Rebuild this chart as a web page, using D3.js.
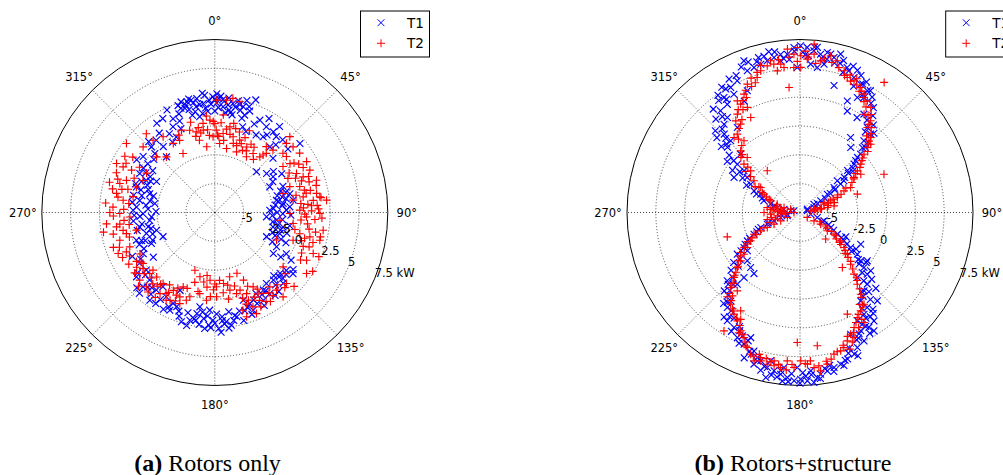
<!DOCTYPE html>
<html>
<head>
<meta charset="utf-8">
<script src="https://cdn.jsdelivr.net/npm/d3@7"></script>
<style>
  body { margin: 0; background: #fff; }
  svg { display: block; }
  .tick { font-family: "DejaVu Sans", sans-serif; font-size: 11.5px; fill: #000; }
  .legend text { font-family: "DejaVu Sans", sans-serif; font-size: 13.5px; fill: #000; }
  .caption { font-family: "Liberation Serif", serif; font-size: 24px; fill: #000; }
</style>
</head>
<body>
<svg id="chart" width="1003" height="475"></svg>
<script>
// angular ticks (deg, clockwise from north) and radial ticks (kW)
const angleTicks = [0, 45, 90, 135, 180, 225, 270, 315];
const angleLabels = ["0°", "45°", "90°", "135°", "180°", "225°", "270°", "315°"];
const radialTicks = [-5, -2.5, 0, 2.5, 5, 7.5];
const radialLabels = ["-5", "-2.5", "0", "2.5", "5", "7.5 kW"];
const seriesNames = ["T1", "T2"];
const captions = [["(a)", " Rotors only"], ["(b)", " Rotors+structure"]];

// (a) rotors only : [angle deg, power kW]
const rotorsT1 = [
  [343,2.53],[345,2.13],[348,2.45],[350,1.81],[353,1.15],[357,2.26],[359,2.53],[2,2.39],[4.5,1.69],[8,1.47],[9.5,2.08],[14,1.63],[17,1.33],[18,2.15],[20,2.89],[351,0.9],[347,1.15],[18,0.32],[21,0.02],
  [340,1.6],[342,2.0],[346,1.7],[349,2.2],[352,1.95],[355,1.6],[358,1.9],[0,1.3],[1,2.0],[3,2.6],[5,2.2],[6,1.2],[7,2.5],[10,1.1],[11,1.8],[12,2.4],[15,2.0],[16,1.0],[355,2.7],[347,2.6],
  [344,1.9],[346,2.4],[349,1.4],[351,2.5],[354,2.0],[356,1.3],[0,2.3],[2,1.6],[4,2.3],[7,1.9],[9,1.3],[13,2.1],[16,2.6],[19,1.8],[354,2.9],[1,2.8],
  [335,2.31],[331,1.81],[327,1.73],[334,0.77],[338,0.34],[333,-0.15],[330,0.38],[321,0.56],[316,0.41],[314.5,-0.21],[322,-0.25],[319,-1.11],
  [311,-0.5],[317,0.9],[325,0.9],[329,-0.4],[336,1.4],[339,1.0],[341,2.3],
  [304,0.67],[308,0.38],[306,-0.32],[304,-1.01],[297.5,-0.17],[295,-0.94],[298,-1.78],[288,-0.35],[286,-1.63],[279,-0.91],[278.5,-2.24],[271.6,-0.41],[269,-1.28],[263,-1.82],[259,-0.87],[253,-2.22],[253,-1.3],[250.5,-0.29],[244,-1.39],[245,-2.55],[240,-0.34],[234,-0.91],
  [300,-0.6],[292,-1.2],[290,-0.2],[283,-1.0],[282,-0.3],[276,-1.5],[274,-0.7],[268,-0.5],[266,-2.0],[261,-1.1],[257,-0.6],[256,-1.8],[248,-1.0],[247,-0.4],[285,-2.0],[271,-2.4],
  [296,-1.3],[293,-0.6],[289,-1.4],[287,-0.8],[280,-1.8],[277,-0.3],[273,-1.7],[267,-1.0],[264,-0.4],[258,-1.6],[251,-1.8],[249,-0.7],[246,-1.6],[243,-0.6],[302,-0.2],[299,-1.1],
  [236,0.37],[230,0.25],[230.6,1.29],[224,0.64],[224,1.46],[217,0.92],[223,2.07],[215,0.35],[216.5,1.97],[210,0.93],[204.6,1.18],[204,-0.11],[204.7,1.83],
  [220,1.0],[226,1.9],[228,0.6],[232,1.0],[238,0.1],[242,0.6],
  [193,2.09],[190,1.4],[186,1.75],[183,2.29],[181,1.84],[178,2.56],[176,1.56],[174,2.03],[171.6,2.38],[168,1.74],[189,0.78],[183,0.98],
  [185,2.6],[187,1.2],[180,2.1],[179,1.3],[177,2.9],[175,2.2],[172,1.2],[170,2.0],[166,1.3],[165,2.2],[191,1.9],[195,1.5],[197,2.4],[200,1.6],[208,2.0],[212,1.4],
  [169,1.6],[173,2.6],[176,1.9],[182,2.5],[184,1.5],[188,2.3],[190,2.0],[194,2.6],[199,2.0],[202,1.3],[206,1.6],[213,1.9],[218,1.5],[222,1.2],
  [162,0.5],[159,0.96],[153,0.4],[148,0.44],[144,0.11],[139,0.25],[133,0.23],[129,0.48],[128,1.11],[152,1.63],[158.6,1.6],[136,1.04],
  [131,0.7],[135,0.4],[141,1.3],[146,1.0],[150,0.7],[155,1.2],[160,1.9],[163,1.4],
  [134,0.7],[137,0.0],[140,0.7],[144,1.4],[147,0.6],[151,1.2],[156,0.8],[161,1.2],
  [53,-1.88],[58.5,-1.57],[65,-2.24],[78.7,-2.05],[82.5,-1.52],[85.7,-0.98],[94.8,-3.0],[104,-2.3],[108,-1.58],[115,-2.55],[119,-1.38],[120,-0.34],[69,-1.17],[76,-0.79],[81,-0.62],[87.6,-2.73],[102,-1.45],
  [72,-1.5],[75,-1.9],[79,-1.2],[83,-2.2],[88,-1.3],[90,-2.1],[92,-0.9],[96,-1.6],[99,-2.4],[100,-0.9],[106,-1.0],[111,-1.9],[113,-0.8],[117,-1.9],[124,-0.6],[125,-1.3],[122,0.3],[126,0.9],
  [74,-1.1],[77,-1.5],[80,-1.9],[84,-1.6],[86,-2.4],[91,-1.6],[93,-2.5],[97,-2.1],[101,-1.9],[105,-1.6],[109,-2.2],[112,-1.3],
  [26,1.41],[31,1.18],[36,1.14],[37,1.83],[39,0.97],[43,1.13],[32.5,0.29],[28,0.12],[51,2.0],[40,-0.07],[45.7,-2.44],
  [24,0.9],[30,1.9],[34,0.6],[42,0.4],[47,-0.6],[49,0.9],[55,-1.3],[60,-0.8],[62,-1.8]
];
const rotorsT2 = [
  [343,-0.04],[347,-0.33],[352.5,0.29],[357,0.52],[1,-0.36],[6,-0.61],[10,0.05],[13.6,-0.74],[19,-0.87],[26,-1.18],[6,2.29],[9,2.52],[12.7,2.34],[348,-1.1],[358.7,-0.93],[4,-1.5],[10.4,-1.86],[19.7,-1.91],[29.6,-1.94],[33,-1.4],[39,-1.29],[41,-0.7],[353,-1.76],[1,2.24],
  [345,0.6],[350,-0.5],[355,-0.3],[0,0.2],[3,-0.9],[8,-0.2],[12,0.4],[15,-1.3],[17,-0.2],[22,-0.5],[24,-1.6],[28,-0.8],[5,1.0],[355,0.9],[338,0.2],[335,-0.1],
  [346,-0.7],[349,0.0],[352,-0.3],[356,-0.8],[359,0.4],[2,-0.8],[4,0.3],[7,-1.2],[11,-0.6],[14,0.0],[18,-1.4],[21,-1.1],[23,0.2],[27,-1.5],[31,-0.9],[36,-1.8],
  [319,1.55],[319.5,0.74],[325.7,0.45],[329,-0.51],[334,-0.54],[308,2.22],[312.5,0.93],[313.7,-0.51],[319,-1.11],[331.7,-1.69],
  [296.5,2.02],[296.5,1.38],[304,1.08],[301,0.12],[300,-0.67],[287,1.11],[290,0.65],[288,-0.35],[281,1.18],[277.6,0.52],[281,-0.28],[273,1.34],[269.4,0.74],[267,-0.12],[264,1.94],[261.7,1.11],[256.6,0.38],[257.3,-0.54],[253.7,1.08],[248,0.45],[241,-0.08],[258,1.5],[294,-0.68],
  [299,1.3],[292,1.7],[285,0.3],[283,1.6],[276,0.0],[270,1.6],[265,0.4],[262,0.0],[250,1.3],[246,0.9],[244,1.4],[238,0.5],[231,0.9],[232,0.4],[260,2.3],[275,2.0],
  [302,1.7],[297,0.6],[293,0.1],[289,1.4],[286,2.0],[284,0.8],[279,1.0],[272,0.4],[268,1.3],[263,0.8],[259,0.6],[254,0.2],[251,1.8],[247,1.6],[243,0.8],[239,1.2],[236,0.2],
  [235,0.77],[234.6,0.13],[226.8,0.23],[228,1.26],[222,0.03],[222.6,1.25],[216,0.12],[214,0.99],[208,0.15],[203,-0.49],[207,1.05],[202.5,0.42],[227,-0.17],
  [200,-0.5],[204,0.9],[206,-0.2],[209,1.2],[211,0.7],[215,1.5],[217,0.3],[221,0.7],[224,0.4],[229,0.6],[233,1.2],[226,1.7],
  [199,-2.2],[193,-1.78],[184,-1.61],[178.7,-1.06],[173,-1.3],[169,-0.64],[190.5,-0.35],[185.4,0.14],[178.8,-0.19],[165,-0.22],[196.5,0.12],[201,0.96],[167,-1.78],
  [176,-1.6],[181,-0.8],[186,-1.0],[189,-1.4],[192,-0.5],[170,-1.1],[196,-1.2],[198,0.5],[205,0.4],[210,0.5],[212,-0.1],[218,0.6],[220,1.5],
  [183,-0.2],[174,-0.5],[171,0.1],[187,-2.0],[180,-1.3],
  [160,-1.89],[157,-1.13],[162,-0.42],[158.6,0.05],[152.7,-0.25],[159,0.64],[164,1.32],[158,1.33],[153,1.05],[149,0.68],[143.5,0.52],[141.5,1.1],[141,1.91],[157.6,1.98],[163,1.95],
  [146,0.9],[148,1.6],[151,0.1],[155,0.6],[161,0.9],[165,-0.9],[137,1.4],[131,0.6],
  [150,1.4],[152,0.5],[154,1.6],[156,-0.5],[162,0.3],[145,1.3],[139,0.8],[133,1.9],
  [56,-0.37],[57,0.27],[64.5,0.35],[68,0.76],[66,1.52],[72.4,1.75],[73,0.2],[71,-0.62],[74.5,-1.35],[81,-0.62],[80,0.28],[83,1.1],[81.5,1.71],[83.7,2.25],[88.4,-0.13],[90.8,-0.99],[92.7,0.46],[90.5,1.61],[96.8,-1.82],[98,-0.64],[104,0.1],[104.4,1.01],[104.8,1.92],[111,0.71],[112.6,1.74],[117.5,1.47],[109.5,-0.3],[99.3,2.02],[55,1.48],[50,1.36],[52,0.38],[79.4,1.48],[123.6,2.05],[128.5,0.07],[134.7,1.25],[114,-1.64],
  [60,0.9],[62,-0.2],[67,0.1],[69,1.2],[76,0.5],[77,1.0],[78,-0.3],[85,0.6],[86,1.4],[87,0.2],[89,0.9],[94,1.2],[95,0.0],[100,0.8],[102,-0.4],[107,1.4],[108,0.4],[115,0.8],[119,1.0],[121,2.4],
  [58,0.6],[61,1.6],[63,1.1],[65,-0.5],[70,0.5],[72,1.1],[75,1.6],[78,0.6],[82,1.8],[84,0.0],[86,0.9],[88,1.5],[91,0.3],[93,1.8],[97,0.6],[101,1.4],[103,1.9],[106,0.6],[110,1.2],[113,2.3],
  [40,-0.99],[38,-0.25],[43,-0.1],[46,1.13],[49,0.33],[44.7,1.75]
];

// (b) rotors + structure : [angle deg, power kW]
const structT1 = [
  [18,5.72],[21.8,5.1],[25.3,4.8],[29,4.56],[29.1,3.9],[23,3.0],[25,2.2],[31,2.1],[38.4,1.9],[42,1.65],[41.7,0.83],[38,-0.35],[46.2,-0.6],[48.2,-1.2],[48.6,-2.0],[51.5,-2.6],[49.6,-3.25],[53.7,-3.84],[56.2,-4.65],[60.5,-5.44],[59.3,-6.09],[65.7,-6.8],[34,0.35],[15,3.9],[26.5,3.64],[33,2.67],
  [20,6.0],[24,5.5],[27,5.2],[32,4.3],[35,3.6],[37,3.0],[40,2.4],[44,1.0],[44,0.3],[46,-0.2],[50,-1.5],[52,-1.7],[55,-3.2],[57,-3.9],[63,-5.8],
  [22,5.8],[23,4.4],[26,4.9],[28,4.1],[30,4.7],[33,3.8],[36,2.4],[39,1.5],[43,1.9],[45,0.5],[47,-0.9],[51,-2.1],[54,-2.8],[58,-4.4],[61,-5.0],
  [334.5,5.15],[331,4.9],[326.5,4.45],[326.1,3.8],[330.8,4.25],[322,3.7],[322.6,2.87],[316,1.95],[316,1.15],[323.6,1.66],[312,0.96],[314.5,-0.28],[307.6,-0.65],[306.7,-1.45],[298,-1.02],[303.6,-2.0],[299.8,-2.57],[295.2,-3.1],[295,-3.74],[288,-4.2],[286,-4.85],[282.4,-5.49],[281.7,-6.09],[280.4,-6.68],[319.3,2.6],[333.4,3.3],[336.6,4.0],
  [328,5.3],[325,4.9],[320,4.2],[318,3.4],[314,2.7],[312,2.2],[310,1.4],[305,0.2],[302,-0.6],[335,5.6],[338,6.1],[341,6.3],
  [332,5.6],[329,5.0],[327,4.2],[324,4.5],[321,3.2],[317,2.4],[315,1.6],[313,1.2],[309,0.4],[308,-0.2],[304,-1.2],[301,-1.7],[297,-2.3],[293,-3.4],[291,-4.0],[284,-5.2],
  [285.8,-6.96],[77,-6.85],[262,-6.39],[265,-5.82],[70.3,-6.21],
  [255.4,-6.36],[255.5,-5.77],[252.3,-5.13],[250.3,-4.49],[249,-3.86],[244.7,-3.09],[241.7,-2.31],[238,-1.77],[236.4,-0.97],[227.5,-1.3],[221.9,-1.09],[220.7,-0.06],[221.2,0.76],[226.8,1.15],[224,1.95],[218,2.24],[217.4,2.87],[216,3.7],[213.9,3.81],[209.8,4.0],[206.6,4.63],[203,4.9],[201.5,4.16],[198.4,5.15],[196.4,5.6],[194.8,5.8],[217,-0.87],[234,-1.86],
  [199,5.5],[205,4.3],[208,3.7],[212,3.3],[215,2.9],[220,2.8],[222,1.6],[225,1.3],[230,0.3],[233,-0.3],[240,-2.0],[246,-3.4],[201,6.0],[194,6.6],
  [193,6.2],[196,5.9],[200,5.3],[202,4.5],[205,5.0],[207,4.0],[210,4.4],[214,3.4],[219,2.5],[221,2.0],[223,1.0],[226,0.6],[229,-0.4],[232,-0.9],[237,-1.4],[243,-2.6],[248,-3.6],[252,-4.6],
  [191.9,6.24],[189.3,6.4],[186.8,6.62],[184.4,6.85],[182,7.1],[179.8,6.96],[177.5,7.11],[175.3,7.29],[172.7,6.64],[170.2,6.44],[167.6,6.26],[165,6.12],[162,5.86],[185.9,6.01],[181,5.94],[176.1,6.26],[191.2,5.61],[196.9,6.24],[191.7,7.11],
  [188,6.9],[183,6.5],[178,6.7],[174,6.9],[169,6.0],[164,6.3],[186,7.2],[180,7.3],
  [168,6.6],[171,6.2],[173,7.0],[176,6.6],[179,6.4],[184,7.2],[187,6.3],[190,6.8],
  [99,-6.56],[106,-5.94],[109,-5.3],[116,-4.53],[120,-3.75],[122.8,-2.96],[124.6,-2.16],[126,-1.35],[128.5,-0.77],[130.7,-0.18],[132.5,0.42],[136.8,1.02],[140.7,1.27],[145.5,1.8],[144.7,2.59],[147.8,2.92],[152,3.12],[152.8,4.03],[153.5,4.94],[157,5.22],[159,5.65],[145.7,3.88],[148,4.6],[138.8,2.68],[157.4,3.93],[117.6,-1.56],[129.5,0.44],[138.6,0.02],[125.7,-0.32],
  [141,2.2],[143,3.0],[146,3.4],[150,3.9],[150,4.6],[155,4.5],[161,5.4],[163,5.9],[135,1.8],[133,1.0],[127,-0.3],[123,-1.7],[118,-3.0],[113,-4.8],[148,3.3],[142,1.2],
  [160,5.0],[158,5.9],[156,4.6],[154,4.2],[151,3.6],[149,4.1],[147,2.4],[144,3.3],[143,1.6],[139,1.6],[137,0.6],[134,0.0],[131,-0.7],[129,-1.0],[127,-1.9],[124,-2.6],[121,-3.3],[118,-4.2],[112,-5.4],
  [357.9,6.82],[0.2,6.96],[2.5,6.83],[4.9,6.58],[7.4,6.34],[9.7,6.58],[12.4,6.26],[14.4,6.68],[6.8,5.16],[4.1,5.4],[358.9,5.08],[352.7,5.76],[355.4,6.27],[350.5,6.13],[347.8,5.96],[345.2,5.8],[342.4,5.68],[339.6,5.61],[339.7,6.52],[9.2,5.53],
  [345,6.4],[349,6.7],[353,6.3],[356,5.8],[1,6.4],[3,6.1],[6,6.9],[10,6.0],[13,5.8],[16,6.2],
  [344,6.1],[347,6.4],[351,6.6],[354,5.9],[358,6.5],[2,6.2],[5,6.9],[8,6.0],[11,6.5],[15,5.9],[17,5.2],[19,5.5]
];
const structT2 = [
  [355.6,6.71],[357.8,6.24],[0.3,6.09],[2.7,5.81],[5.1,6.28],[7.8,5.77],[359.1,6.81],[352.6,5.47],[350,5.56],[347.4,5.53],[344.5,5.25],[342.4,4.78],[353.7,5.15],[350.9,4.94],[4.8,7.15],[11.1,6.35],[13.8,6.05],[355,3.38],[321.9,-2.9],[32.9,5.93],[65.5,0.5],[357.6,5.08],[0.3,5.08],
  [9,6.0],[345,5.7],[349,5.9],[2,6.5],
  [356,6.0],[352,5.9],[359,5.6],[3,6.0],[6,5.5],[12,5.8],[15,5.5],
  [337.7,4.53],[334.7,3.85],[331.3,3.21],[333.4,2.69],[327.5,2.61],[326.1,1.73],[321.3,1.2],[322,0.39],[316.1,-0.08],[316.2,-0.89],[310.8,-1.08],[310.2,-1.9],[304.6,-2.65],[302.5,-3.46],[297,-4.0],[291.8,-4.77],[290,-5.4],[287.4,-6.05],[289.5,-6.64],[330.7,3.6],[332.6,1.78],[318.7,1.16],
  [340,4.9],[336,4.1],[333,3.4],[329,2.9],[325,2.2],[320,0.8],[313,-0.5],[307,-1.6],[300,-3.0],[295,-4.3],
  [343,5.2],[341,4.4],[339,4.2],[335,3.5],[331,2.7],[328,2.0],[324,1.5],[319,0.2],[315,-0.4],[311,-1.5],[306,-2.2],[302,-3.3],[298,-3.8],[293,-4.6],[285,-5.4],
  [17.3,5.37],[19.3,4.9],[22.3,4.84],[25.9,4.55],[28.4,4.17],[31.1,3.81],[34,3.48],[33.1,2.67],[37.6,2.54],[38.4,1.9],[43.3,1.44],[46,0.62],[47.7,0.01],[51.5,-0.77],[54,-1.35],[57,-1.92],[63.7,-2.6],[63.8,-3.25],[68,-4.01],[69.1,-4.65],[70.9,-5.3],[73.9,-5.94],[81,-6.56],[72.3,-2.28],[57.8,-1.27],[46,1.02],
  [20,5.2],[24,4.6],[27,4.3],[30,3.6],[36,3.0],[40,2.1],[41,1.3],[45,0.9],[49,-0.3],[53,-1.0],[60,-2.3],[66,-3.6],
  [18,5.0],[21,4.7],[23,5.1],[26,4.2],[29,3.9],[32,3.3],[35,2.8],[38,2.2],[42,1.7],[44,1.1],[48,0.4],[50,-0.5],[55,-1.6],[58,-2.0],[62,-3.0],[65,-3.9],[68,-4.4],[70,-4.9],
  [278.7,-4.63],[273.7,-5.24],[275,-5.82],[270,-6.4],[270,-6.98],[266.7,-4.95],[261.7,-5.51],[270,-4.38],[83.1,-6.28],[81,-5.68],[79.6,-5.09],[78.9,-4.49],[67.4,-5.25],
  [275,-6.0],[272,-5.6],[268,-5.9],[264,-6.2],[260,-5.0],[258,-4.6],[276,-4.9],[280,-5.2],[283,-5.8],[255,-5.3],[252,-4.7],[85,-6.0],[80,-5.6],[76,-5.0],[74,-4.4],[72,-4.9],[77,-6.2],
  [248.5,-6.32],[246.7,-5.68],[245.8,-5.03],[245.4,-4.38],[245,-3.74],[244.7,-3.09],[240.2,-2.57],[236.4,-2.01],[233.3,-1.45],[230.8,-0.87],[228.7,-0.27],[225.4,0.53],[222.7,1.36],[220.8,2.15],[217.1,2.47],[213,3.01],[210,3.35],[206.6,3.97],[204.1,4.38],[201.3,5.07],[199.2,5.51],[197.2,5.97],[251.5,-0.85],[212.7,4.7],[218.7,1.2],[211.1,2.46],
  [242,-2.8],[239,-2.2],[236,-1.3],[232,-0.7],[227,0.1],[223,0.9],[203,4.7],[207,4.2],[209,3.1],[215,2.7],[219,1.8],[224,1.0],
  [247,-4.1],[243,-3.3],[241,-2.3],[238,-1.8],[234,-1.1],[229,-0.4],[226,0.4],[221,1.8],[218,2.2],[214,2.8],[211,3.2],[208,3.6],[205,4.2],[202,5.0],[198,5.6],
  [194.8,5.8],[192.2,5.96],[189.9,5.56],[187.1,6.05],[184.9,5.41],[182.2,5.95],[179.7,5.37],[177.2,5.67],[174.8,6.0],[172.6,6.35],[169.8,5.86],[166.5,5.13],[181.2,3.77],[172.6,4.15],[195.2,5.53],[189.6,5.98],
  [170,5.6],[176,5.4],[185,6.2],[191,5.7],[196,5.3],
  [193,5.5],[188,5.8],[183,5.7],[178,5.6],[173,5.9],[168,5.5],
  [124,-6.74],[120.7,-6.09],[119.5,-5.44],[123.8,-4.65],[122.5,-4.0],[124.8,-3.2],[128.5,-2.63],[131.4,-2.03],[135.6,-1.22],[138.8,-0.39],[141.4,0.46],[143.4,1.33],[145.1,2.2],[148.3,2.52],[151.4,2.87],[154.8,3.52],[157.4,3.93],[159.8,4.36],[162,4.81],[163.6,5.0],[136,-4.3],[142.4,-1.48],[155,2.22],[149.8,3.54],[156.6,4.3],
  [115,-5.6],[118,-5.0],[121,-4.3],[126,-3.6],[128,-3.0],[130,-2.4],[133,-1.8],
  [150,3.2],[153,3.7],[158,4.6],[160,5.1],[147,2.0],[144,1.6],[140,0.2],
  [165,5.0],[162,4.6],[159,4.0],[156,3.9],[153,3.2],[150,2.7],[146,2.2],[142,0.9],[139,0.0],[137,-0.8],[134,-1.4],[132,-2.2],[127,-3.2],[123,-3.8],[120,-4.8]
];

const panels = [
  { cx: 214.8, cy: 212.5, t1: rotorsT1, t2: rotorsT2, caption: captions[0], capX: 207.5 },
  { cx: 800, cy: 212.5, t1: structT1, t2: structT2, caption: captions[1], capX: 793 }
];

const R = 173;
const svg = d3.select("#chart");
const r = d3.scaleLinear().domain([-7.5, 7.5]).range([0, R]);
const rad = d3.scaleLinear().domain([0, 360]).range([0, 2 * Math.PI]);

const crossPath = "M-3.4,-3.4L3.4,3.4M-3.4,3.4L3.4,-3.4";
const plusPath = "M-4,0H4M0,-4V4";

panels.forEach(p => {
  const g = svg.append("g").attr("transform", `translate(${p.cx},${p.cy})`);

  // radial grid
  g.selectAll("circle.grid")
    .data(radialTicks.slice(0, -1))
    .enter().append("circle")
    .attr("class", "grid")
    .attr("r", d => r(d))
    .attr("fill", "none")
    .attr("stroke", "#333")
    .attr("stroke-width", 0.9)
    .attr("stroke-dasharray", "1,2");

  // angular grid
  g.selectAll("line.spoke")
    .data(angleTicks)
    .enter().append("line")
    .attr("class", "spoke")
    .attr("x1", 0).attr("y1", 0)
    .attr("x2", d => d3.pointRadial(rad(d), R)[0])
    .attr("y2", d => d3.pointRadial(rad(d), R)[1])
    .attr("stroke", "#333")
    .attr("stroke-width", 0.9)
    .attr("stroke-dasharray", "1,2");

  g.append("circle")
    .attr("r", R)
    .attr("fill", "none")
    .attr("stroke", "#000")
    .attr("stroke-width", 1);

  // data
  g.selectAll("path.t1")
    .data(p.t1)
    .enter().append("path")
    .attr("class", "t1")
    .attr("d", crossPath)
    .attr("transform", d => `translate(${d3.pointRadial(rad(d[0]), r(d[1]))})`)
    .attr("fill", "none")
    .attr("stroke", "#0000ff")
    .attr("stroke-width", 1.15);

  g.selectAll("path.t2")
    .data(p.t2)
    .enter().append("path")
    .attr("class", "t2")
    .attr("d", plusPath)
    .attr("transform", d => `translate(${d3.pointRadial(rad(d[0]), r(d[1]))})`)
    .attr("fill", "none")
    .attr("stroke", "#ff0000")
    .attr("stroke-width", 1.15);

  // angle labels
  g.selectAll("text.ang")
    .data(angleTicks)
    .enter().append("text")
    .attr("class", "tick ang")
    .attr("x", d => d3.pointRadial(rad(d), R + 19)[0])
    .attr("y", d => d3.pointRadial(rad(d), R + 19)[1])
    .attr("text-anchor", "middle")
    .attr("dominant-baseline", "central")
    .text((d, i) => angleLabels[i]);

  // radial labels at 112.5 deg
  g.selectAll("text.rl")
    .data(radialTicks)
    .enter().append("text")
    .attr("class", "tick rl")
    .attr("x", d => d3.pointRadial(rad(112.5), r(d))[0])
    .attr("y", d => d3.pointRadial(rad(112.5), r(d))[1] - 2)
    .text((d, i) => radialLabels[i]);

  // legend
  const lg = g.append("g").attr("class", "legend").attr("transform", "translate(145.7,-201.5)");
  lg.append("rect")
    .attr("width", 69).attr("height", 46)
    .attr("fill", "#fff").attr("stroke", "#000").attr("stroke-width", 1);
  seriesNames.forEach((name, i) => {
    const yy = 11.7 + i * 20.6;
    lg.append("path")
      .attr("d", i === 0 ? crossPath : plusPath)
      .attr("transform", `translate(20.5,${yy})`)
      .attr("fill", "none")
      .attr("stroke", i === 0 ? "#0000ff" : "#ff0000")
      .attr("stroke-width", 1);
    lg.append("text")
      .attr("x", 46.5).attr("y", yy)
      .attr("dominant-baseline", "central")
      .text(name);
  });

  // caption
  const cap = svg.append("text")
    .attr("class", "caption")
    .attr("x", p.capX)
    .attr("y", 471)
    .attr("text-anchor", "middle");
  cap.append("tspan").attr("font-weight", "bold").text(p.caption[0]);
  cap.append("tspan").text(p.caption[1]);
});
</script>
</body>
</html>
